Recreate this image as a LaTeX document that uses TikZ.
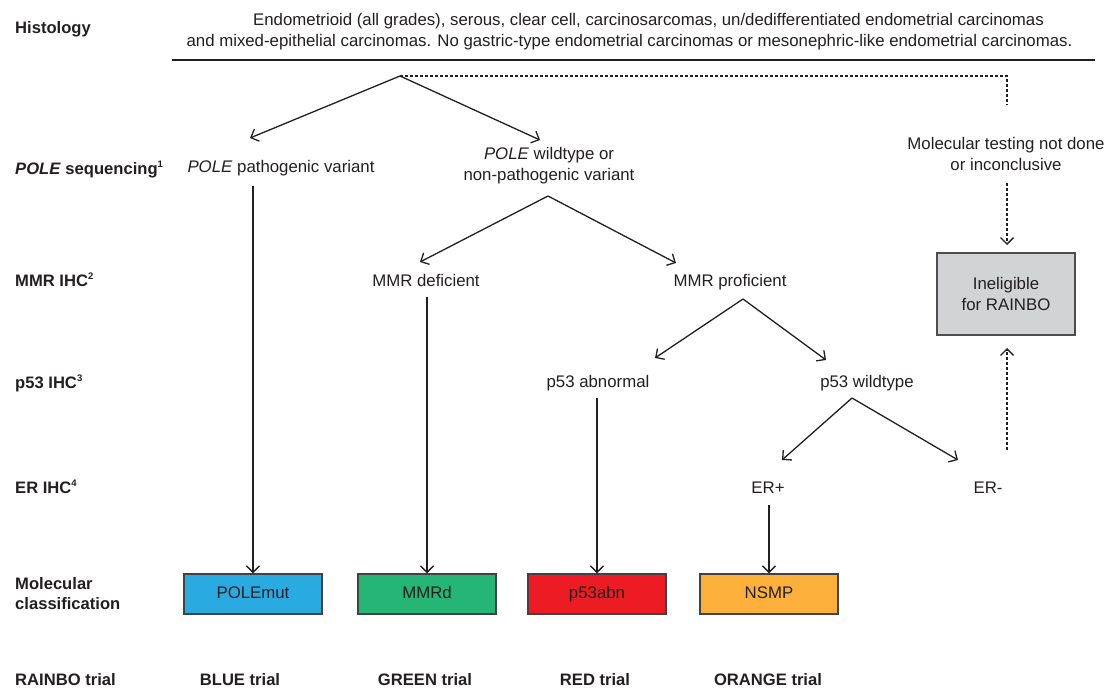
\documentclass[tikz,border=0pt]{standalone}
\usepackage{fontspec}
\setmainfont{Liberation Sans}
\usetikzlibrary{arrows.meta}
\definecolor{ink}{HTML}{231F20}
\definecolor{cblue}{HTML}{29ABE2}
\definecolor{cgreen}{HTML}{25B574}
\definecolor{cred}{HTML}{ED1C24}
\definecolor{corange}{HTML}{FBB03B}
\definecolor{cgray}{HTML}{D1D3D4}
\newcommand\mysupr[1]{\raisebox{0.42em}{\fontsize{9.5}{9.5}\selectfont #1}}
\begin{document}
\begin{tikzpicture}[x=1pt,y=-1pt,
  every node/.style={text=ink, inner sep=0pt},
  lbl/.style={font=\fontsize{16.8}{21}\selectfont, align=center},
  rowlbl/.style={font=\fontsize{16.6}{20}\selectfont\bfseries, align=left, anchor=base west},
  conn/.style={draw=ink, line width=1.3pt, -{Straight Barb[length=6.5pt,width=13pt]}},
  dsh/.style={draw=ink, line width=1.3pt, dash pattern=on 3pt off 2pt},
  dshconn/.style={dsh, -{Straight Barb[length=6.5pt,width=13pt]}},
  classbox/.style={draw=ink!85, line width=1.4pt, minimum width=138pt, minimum height=40pt, font=\fontsize{16.8}{20}\selectfont, text height=12pt, text depth=3.5pt},
]
\useasboundingbox (0,0) rectangle (1105,688);

% row labels
\node[rowlbl] (rHist) at (15,33) {Histology};
\node[rowlbl] (rPole) at (15,174) {\textit{POLE} sequencing\mysupr{1}};
\node[rowlbl] (rMmr) at (15,286) {MMR IHC\mysupr{2}};
\node[rowlbl] (rP53) at (15,388) {p53 IHC\mysupr{3}};
\node[rowlbl] (rEr) at (15,493) {ER IHC\mysupr{4}};
\node[rowlbl, anchor=west] (rMol) at (15,594) {Molecular\\classification};
\node[rowlbl] (rTrial) at (15,685) {RAINBO trial};

% histology text and rule
\node[lbl] (hist) at (629.5,32) {\hspace*{38pt}Endometrioid (all grades), serous, clear cell, carcinosarcomas, un/dedifferentiated endometrial carcinomas\\and mixed-epithelial carcinomas. No gastric-type endometrial carcinomas or mesonephric-like endometrial carcinomas.};
\coordinate (ruleL) at (172,60);
\coordinate (ruleR) at (1095,60);
\draw[draw=ink, line width=1.5pt] (ruleL) -- (ruleR);

% text nodes
\node[lbl, anchor=base] (polepv) at (281,172) {\textit{POLE} pathogenic variant};
\node[lbl] (polewt) at (549,166) {\textit{POLE} wildtype or\\non-pathogenic variant};
\node[lbl] (moltest) at (1006,154) {Molecular testing not done\\or inconclusive};
\node[lbl, anchor=base] (mmrd) at (426,286) {MMR deficient};
\node[lbl, anchor=base] (mmrp) at (730,286) {MMR proficient};
\node[lbl, anchor=base] (p53a) at (598,387) {p53 abnormal};
\node[lbl, anchor=base] (p53w) at (867,387) {p53 wildtype};
\node[lbl, anchor=base] (erp) at (768,493) {ER+};
\node[lbl, anchor=base] (erm) at (988,493) {ER-};

% boxes
\node[classbox, fill=cgray, draw=ink!80, minimum height=82pt, align=center, text height=, text depth=, font=\fontsize{16.8}{21}\selectfont] (inel) at (1006,294) {Ineligible\\for RAINBO};
\node[classbox, fill=cblue] (polemut) at (253,594) {POLEmut};
\node[classbox, fill=cgreen] (mmrdbox) at (427,594) {MMRd};
\node[classbox, fill=cred] (p53box) at (597,594) {p53abn};
\node[classbox, fill=corange] (nsmp) at (769,594) {NSMP};

% trials
\node[rowlbl, anchor=base] (tBlue) at (240,685) {BLUE trial};
\node[rowlbl, anchor=base] (tGreen) at (425,685) {GREEN trial};
\node[rowlbl, anchor=base] (tRed) at (595,685) {RED trial};
\node[rowlbl, anchor=base] (tOrange) at (768,685) {ORANGE trial};

% connector coordinates
\coordinate (top) at (400,76);
\coordinate (tPole) at (250,138);
\coordinate (tWild) at (540,140);
\coordinate (wApex) at (548,196);
\coordinate (tDef) at (420,262);
\coordinate (tProf) at (676,263);
\coordinate (pApex) at (743,299);
\coordinate (tAbn) at (655,358);
\coordinate (tWt) at (826,360);
\coordinate (eApex) at (852,398);
\coordinate (tPlus) at (782,460);
\coordinate (tMinus) at (958,460);
\coordinate (corner) at (1007,76);
\coordinate (dEnd) at (1007,105);
\coordinate (dStart) at (1007,183);
\coordinate (dTip) at (1007,245);
\coordinate (uStart) at (1007,450);
\coordinate (uEnd) at (1007,348);
\coordinate (s1) at (253,186);
\coordinate (s2) at (427,297);
\coordinate (s3) at (597,398);
\coordinate (s4) at (769,505);

% connectors
\draw[conn] (top) -- (tPole);
\draw[conn] (top) -- (tWild);
\draw[conn] (wApex) -- (tDef);
\draw[conn] (wApex) -- (tProf);
\draw[conn] (pApex) -- (tAbn);
\draw[conn] (pApex) -- (tWt);
\draw[conn] (eApex) -- (tPlus);
\draw[conn] (eApex) -- (tMinus);
\draw[dsh] (top) -- (corner) -- (dEnd);
\draw[dshconn] (dStart) -- (dTip);
\draw[dshconn] (uStart) -- (uEnd);
\draw[conn] (s1) -- (polemut.north);
\draw[conn] (s2) -- (mmrdbox.north);
\draw[conn] (s3) -- (p53box.north);
\draw[conn] (s4) -- (nsmp.north);
\end{tikzpicture}
\end{document}
